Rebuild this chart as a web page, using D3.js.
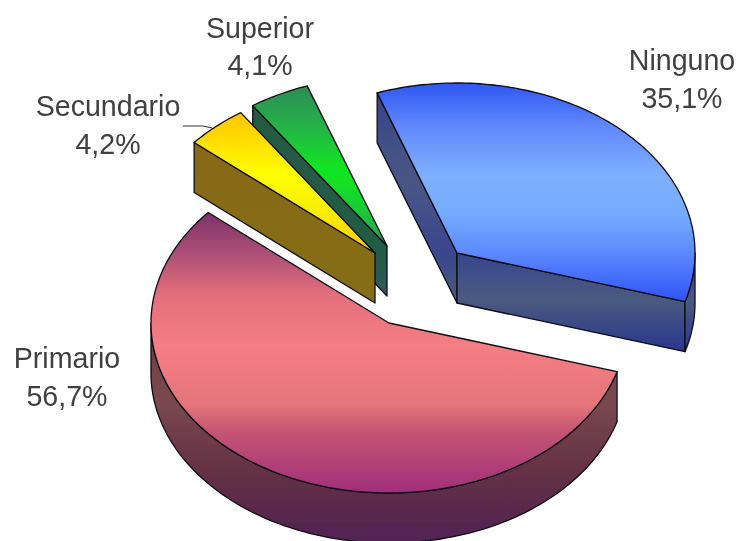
<!DOCTYPE html>
<html><head><meta charset="utf-8">
<style>html,body{margin:0;padding:0;background:#fff}svg{display:block}
text{font-family:"Liberation Sans",Arial,sans-serif;font-size:28.6px;fill:#404040;text-anchor:middle}</style>
<script src="https://cdn.jsdelivr.net/npm/d3@7/dist/d3.min.js"></script>
</head><body><script>
const categories = ["Ninguno", "Primario", "Secundario", "Superior"];
const shares = [35.1, 56.7, 4.2, 4.1];
const percentLabels = ["35,1%", "56,7%", "4,2%", "4,1%"];

const W = 738, H = 541, RX = 238, RY = 170, DEPTH = 50;
const START = -19.6 * Math.PI / 180;
// exploded centre of each slice
const centres = {Ninguno:[457,253], Primario:[389,323], Secundario:[375,253], Superior:[387,246]};
const labelPos = {Ninguno:[682,70,108], Primario:[67,368,406], Secundario:[108,116,154], Superior:[260,38,75]};
const topStops = {
  Ninguno:[[84,"#2f58f2"],[125,"#5f86fb"],[175,"#7fb0ff"],[215,"#74aaff"],[250,"#5f8cff"],[300,"#2f55f5"]],
  Primario:[[212,"#7e2f5e"],[250,"#ac4c6c"],[295,"#ec7070"],[345,"#ff8078"],[405,"#ee7670"],[430,"#cc5668"],[495,"#a42a74"]],
  Secundario:[[110,"#ffc400"],[135,"#ffd800"],[175,"#ffff00"],[215,"#f8ec00"],[252,"#ffc800"]],
  Superior:[[84,"#2e8b57"],[125,"#25b048"],[170,"#10e820"],[205,"#18d030"],[245,"#2e9c5c"]]
};
const sideStops = {
  Ninguno:[[93,"#2f4785"],[180,"#44587e"],[255,"#32498a"],[300,"#465c78"],[350,"#22388a"]],
  Primario:[[320,"#6a3a30"],[400,"#7a4a42"],[470,"#643038"],[541,"#50204a"]],
  Secundario:[[144,"#8a6c00"],[304,"#857200"]],
  Superior:[[106,"#1d5c34"],[250,"#1a6038"],[298,"#2c5a50"]]
};
const texturedTop = ["Primario"];

const svg = d3.select("body").append("svg").attr("width", W).attr("height", H);
const defs = svg.append("defs");
defs.append("filter").attr("id", "soft").attr("x", 0).attr("y", 0).attr("width", 1).attr("height", 1)
  .attr("filterUnits", "objectBoundingBox")
  .append("feGaussianBlur").attr("stdDeviation", 0.4);
const dither = defs.append("pattern").attr("id", "dither").attr("patternUnits", "userSpaceOnUse")
  .attr("width", 2).attr("height", 2);
dither.append("rect").attr("width", 1).attr("height", 1).attr("fill", "#8050c8").attr("fill-opacity", 0.1);
dither.append("rect").attr("x", 1).attr("y", 1).attr("width", 1).attr("height", 1).attr("fill", "#8050c8").attr("fill-opacity", 0.1);

const gradient = (id, stops) => {
  const g = defs.append("linearGradient").attr("id", id)
    .attr("gradientUnits", "userSpaceOnUse").attr("x1", 0).attr("x2", 0)
    .attr("y1", stops[0][0]).attr("y2", stops[stops.length - 1][0]);
  const pos = d3.scaleLinear().domain([stops[0][0], stops[stops.length - 1][0]]).range([0, 1]);
  g.selectAll("stop").data(stops).join("stop")
    .attr("offset", d => pos(d[0])).attr("stop-color", d => d[1]);
};
categories.forEach((c, i) => {
  gradient("top" + i, topStops[c]);
  gradient("side" + i, sideStops[c]);
});

const root = svg.append("g").attr("filter", "url(#soft)");
root.append("rect").attr("width", W).attr("height", H).attr("fill", "#fff");

const pie = d3.pie().sort(null).startAngle(START).endAngle(START + 2 * Math.PI);
const arcs = pie(shares).map((a, i) => ({...a, name: categories[i], idx: i}));
const line = d3.line();

function projector(name) {
  const [cx, cy] = centres[name];
  const sx = d3.scaleLinear().domain([-1, 1]).range([cx - RX, cx + RX]);
  const sy = d3.scaleLinear().domain([-1, 1]).range([cy - RY, cy + RY]);
  return (a, r = 1, dz = 0) => [sx(r * Math.sin(a)), sy(-r * Math.cos(a)) + dz];
}
const sweep = (a0, a1) => {
  const n = Math.max(2, Math.ceil((a1 - a0) / 0.02));
  return d3.range(n + 1).map(k => a0 + (a1 - a0) * k / n);
};

function drawSlice(d) {
  const p = projector(d.name);
  const g = root.append("g");
  const face = (pathD, fill, textured) => {
    g.append("path").attr("d", pathD).attr("fill", fill).attr("stroke", "#0a0a10")
      .attr("stroke-width", 1.3).attr("stroke-linejoin", "round");
    if (textured) g.append("path").attr("d", pathD).attr("fill", "url(#dither)");
  };
  const side = "url(#side" + d.idx + ")";
  if (Math.sin(d.startAngle) < 0)
    face(line([p(d.startAngle), p(0, 0), p(0, 0, DEPTH), p(d.startAngle, 1, DEPTH)]) + "Z", side, true);
  if (Math.sin(d.endAngle) > 0)
    face(line([p(d.endAngle), p(0, 0), p(0, 0, DEPTH), p(d.endAngle, 1, DEPTH)]) + "Z", side, true);
  const a0 = Math.max(d.startAngle, Math.PI / 2), a1 = Math.min(d.endAngle, 3 * Math.PI / 2);
  if (a1 > a0) {
    const s = sweep(a0, a1);
    face(line([...s.map(a => p(a)), ...s.slice().reverse().map(a => p(a, 1, DEPTH))]) + "Z", side, true);
  }
  face(line([p(0, 0), ...sweep(d.startAngle, d.endAngle).map(a => p(a))]) + "Z",
    "url(#top" + d.idx + ")", texturedTop.includes(d.name));
}
// painter's order: back slices first
["Superior", "Secundario", "Ninguno", "Primario"].forEach(n => drawSlice(arcs.find(a => a.name === n)));

// leader line for Secundario
root.append("path").attr("fill", "none").attr("stroke", "#333").attr("stroke-width", 1.2)
  .attr("d", line([[183, 126], [203, 126], [212, 128]]));

categories.forEach((c, i) => {
  const [x, y1, y2] = labelPos[c];
  root.append("text").attr("x", x).attr("y", y1).text(c);
  root.append("text").attr("x", x).attr("y", y2).text(percentLabels[i]);
});
</script></body></html>
